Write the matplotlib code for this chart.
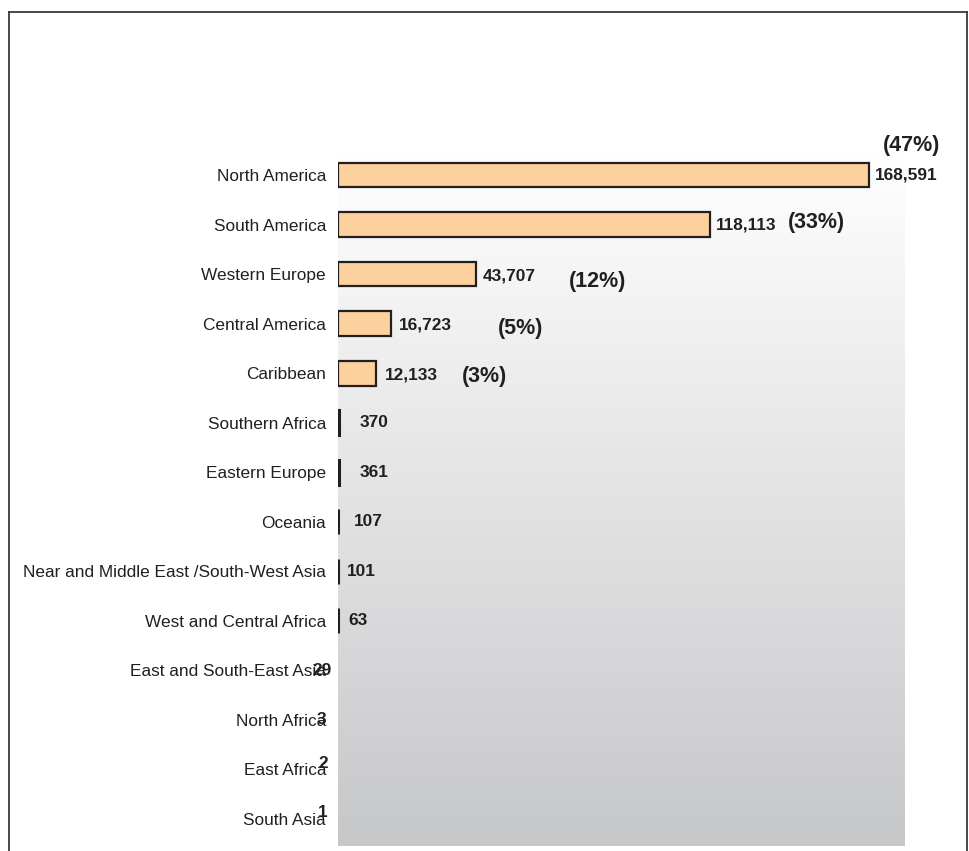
import numpy as np
import matplotlib
matplotlib.use("Agg")
import matplotlib.pyplot as plt
from matplotlib.lines import Line2D

plt.rcParams['font.family'] = ['Liberation Sans', 'DejaVu Sans']

# Data
regions = [
    "North America", "South America", "Western Europe", "Central America",
    "Caribbean", "Southern Africa", "Eastern Europe", "Oceania",
    "Near and Middle East /South-West Asia", "West and Central Africa",
    "East and South-East Asia", "North Africa", "East Africa", "South Asia",
]
values = [168591, 118113, 43707, 16723, 12133, 370, 361, 107, 101, 63, 29, 3, 2, 1]
share_labels = ["(47%)", "(33%)", "(12%)", "(5%)", "(3%)"]

# Label placement (pixel offsets from the bar end)
value_offsets = [(6, 0), (6, 0), (7, -2), (8, -1), (9, -2), (20, 0), (20, 0),
                 (16, 0), (9, 0), (10, 0), (-26, 0), (-21, 0), (-20, 6), (-20, 7)]
share_offsets = [(14, 30), (78, 2), (93, -7), (107, -5), (86, -3)]

TEXT = "#231f20"
W, H, DPI = 969, 851, 100
fig = plt.figure(figsize=(W / DPI, H / DPI), dpi=DPI)

left, right, top, bottom = 338, 905, 149, 846
ax = fig.add_axes([left / W, 1 - bottom / H, (right - left) / W, (bottom - top) / H])

n = len(regions)
y = np.arange(n)
xmax = 180000
ax.set_xlim(0, xmax)
ax.set_ylim(n - 1 + 0.545, -0.525)

# vertical grey gradient behind the bars
grad = np.linspace(0, 1, 256)[:, None]
top_c = np.array([1.0, 1.0, 1.0])
bot_c = np.array([198, 199, 201]) / 255
img = top_c + (bot_c - top_c) * grad
img = np.repeat(img[:, None, :], 2, axis=1)
ax.imshow(img, extent=[0, xmax, n - 1 + 0.545, -0.525], aspect='auto',
          zorder=0, interpolation='bilinear')

# large bars get a normal outline, slivers a heavier one, the tiniest none
lws = [1.6 if v >= 1000 else (2.2 if v >= 50 else 0) for v in values]
ax.barh(y, values, height=0.5, color="#fdd19d", edgecolor=TEXT,
        linewidth=lws, zorder=2)

for i, v in enumerate(values):
    dx, dy = value_offsets[i]
    ax.annotate(f"{v:,}", xy=(v, i), xytext=(dx, dy), textcoords='offset pixels',
                ha='left', va='center', fontsize=12.4, fontweight='bold',
                color=TEXT, zorder=3, annotation_clip=False)

for i, s in enumerate(share_labels):
    dx, dy = share_offsets[i]
    ax.annotate(s, xy=(values[i], i), xytext=(dx, dy), textcoords='offset pixels',
                ha='left', va='center', fontsize=15.5, fontweight='bold',
                color=TEXT, zorder=3, annotation_clip=False)

ax.set_yticks(y)
ax.set_yticklabels(regions, fontsize=12.4, color=TEXT)
ax.tick_params(axis='y', length=0, pad=8.6)
ax.set_xticks([])
for sp in ax.spines.values():
    sp.set_visible(False)

# outer frame (open at the bottom)
fx0, fx1, fy0 = 9 / W, 966.5 / W, 1 - 12 / H
frame_kw = dict(color="#3a3a3a", linewidth=1.3, transform=fig.transFigure)
fig.add_artist(Line2D([fx0, fx0], [0, fy0], **frame_kw))
fig.add_artist(Line2D([fx0, fx1], [fy0, fy0], **frame_kw))
fig.add_artist(Line2D([fx1, fx1], [0, fy0], **frame_kw))

fig.savefig("out.png", dpi=DPI, facecolor="white")
